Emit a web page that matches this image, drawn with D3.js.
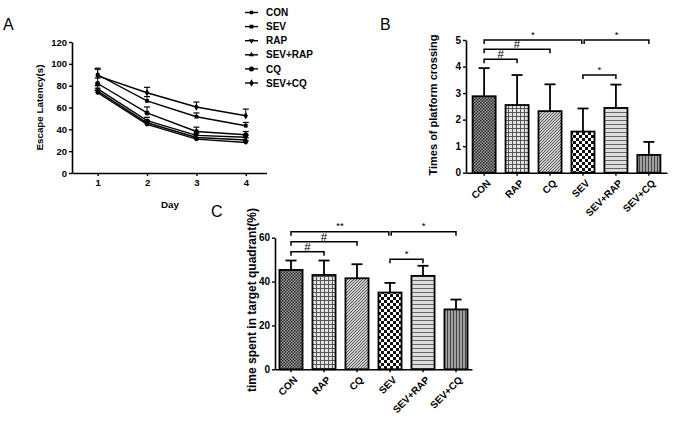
<!DOCTYPE html>
<html><head><meta charset="utf-8">
<script src="https://cdn.jsdelivr.net/npm/d3@7"></script>
<style>body{margin:0;background:#fff} svg{display:block} text{font-family:"Liberation Sans",Arial,sans-serif}</style>
</head><body><svg id="c" width="674" height="421"></svg>
<script>
// ---------- DATA ----------
const days = [1, 2, 3, 4];
const lineSeries = ["CON", "SEV", "RAP", "SEV+RAP", "CQ", "SEV+CQ"];
const latCON    = [73.5, 44.5, 31, 28];
const latSEV    = [90, 66, 51.5, 43.3];
const latRAP    = [77, 48, 34.5, 32.7];
const latSEVRAP = [75, 46, 32.5, 30.2];
const latCQ     = [82, 55, 38, 35];
const latSEVCQ  = [89, 73.5, 60.5, 52.5];
const errCON    = [2, 2, 1.5, 1.5];
const errSEV    = [5, 4, 3.5, 3];
const errRAP    = [3, 3, 2, 2];
const errSEVRAP = [2, 2, 2, 2];
const errCQ     = [5, 5.5, 4, 3];
const errSEVCQ  = [7, 5, 4.5, 6];
const latTicks = [0, 20, 40, 60, 80, 100, 120];

const barGroups = ["CON", "RAP", "CQ", "SEV", "SEV+RAP", "SEV+CQ"];
const crossMean = [2.88, 2.55, 2.32, 1.55, 2.44, 0.67];
const crossErr  = [1.06, 1.13, 1.01, 0.87, 0.88, 0.49];
const crossTicks = [0, 1, 2, 3, 4, 5];
// [from, to, label, level]
const crossSig = [[0, 3, "*", 5.0], [3, 5, "*", 5.0], [0, 2, "#", 4.65], [0, 1, "#", 4.27], [3, 4, "*", 3.68]];

const timeMean = [45.3, 43, 41.5, 35, 42.6, 27.3];
const timeErr  = [4.3, 6.6, 6.4, 4.4, 4.6, 4.5];
const timeTicks = [0, 20, 40, 60];
const timeSig = [[0, 3, "**", 62.7], [3, 5, "*", 62.7], [0, 2, "#", 58.2], [0, 1, "#", 53.6], [3, 4, "*", 50.2]];

// ---------- SETUP ----------
const svg = d3.select("#c");
const defs = svg.append("defs");
const FONT = "bold";

function pat(id, w, h, bg, draw) {
  const p = defs.append("pattern").attr("id", id).attr("width", w).attr("height", h).attr("patternUnits", "userSpaceOnUse");
  p.append("rect").attr("width", w).attr("height", h).attr("fill", bg);
  draw(p);
}
pat("p0", 3, 3, "#a0a0a0", p => { p.append("rect").attr("width", 1.5).attr("height", 1.5).attr("fill", "#262626"); p.append("rect").attr("x", 1.5).attr("y", 1.5).attr("width", 1.5).attr("height", 1.5).attr("fill", "#262626"); });
pat("p1", 4, 4, "#e4e4e4", p => { p.append("rect").attr("width", 4).attr("height", 1).attr("fill", "#555"); p.append("rect").attr("width", 1).attr("height", 4).attr("fill", "#555"); });
pat("p2", 3, 3, "#d0d0d0", p => { p.append("path").attr("d", "M0,3L3,0M-1,1L1,-1M2,4L4,2").attr("stroke", "#444").attr("stroke-width", 0.9); });
pat("p3", 6, 6, "#fff", p => { p.append("rect").attr("width", 3).attr("height", 3).attr("fill", "#111"); p.append("rect").attr("x", 3).attr("y", 3).attr("width", 3).attr("height", 3).attr("fill", "#111"); });
pat("p4", 4, 4, "#dedede", p => { p.append("rect").attr("width", 4).attr("height", 1).attr("fill", "#666"); });
pat("p5", 3, 3, "#a0a0a0", p => { p.append("rect").attr("width", 1).attr("height", 3).attr("fill", "#444"); });

function styleAxis(g, fs) {
  g.select(".domain").attr("stroke", "#000").attr("stroke-width", 1.6);
  g.selectAll(".tick line").attr("stroke", "#000").attr("stroke-width", 1.4);
  g.selectAll(".tick text").attr("font-size", fs).attr("font-weight", FONT).attr("fill", "#000");
}

// ---------- PANEL A ----------
const xA = d3.scaleLinear().domain([0.48, 4.42]).range([72, 266.5]);
const yA = d3.scaleLinear().domain([0, 120]).range([173, 42]);
const gAy = svg.append("g").attr("transform", "translate(72,0)").call(d3.axisLeft(yA).tickValues(latTicks).tickSize(3).tickSizeOuter(0).tickPadding(2).tickFormat(d3.format("d")));
styleAxis(gAy, 9.5);
const gAx = svg.append("g").attr("transform", "translate(0,173)").call(d3.axisBottom(xA).tickValues(days).tickSize(3).tickSizeOuter(0).tickPadding(3).tickFormat(d3.format("d")));
styleAxis(gAx, 9.5);
svg.append("text").attr("x", 3).attr("y", 30).attr("font-size", 16).text("A");
svg.append("text").attr("transform", "translate(43,107.5) rotate(-90)").attr("text-anchor", "middle").attr("font-size", 9.8).attr("font-weight", FONT).text("Escape Latency(s)");
svg.append("text").attr("x", 170).attr("y", 208).attr("text-anchor", "middle").attr("font-size", 9.8).attr("font-weight", FONT).text("Day");

const latData = [latCON, latSEV, latRAP, latSEVRAP, latCQ, latSEVCQ];
const errData = [errCON, errSEV, errRAP, errSEVRAP, errCQ, errSEVCQ];
const symTypes = [d3.symbolCircle, d3.symbolSquare, d3.symbolTriangle, d3.symbolTriangle, d3.symbolCircle, d3.symbolDiamond];
const symRot = [0, 0, 180, 0, 0, 0];
const symSize = [14, 14, 12, 12, 20, 16];
const line = d3.line().x((d, i) => xA(days[i])).y(d => yA(d));
lineSeries.forEach((name, s) => {
  const g = svg.append("g");
  latData[s].forEach((v, i) => {
    const x = xA(days[i]);
    g.append("line").attr("x1", x).attr("x2", x).attr("y1", yA(v)).attr("y2", yA(v + errData[s][i])).attr("stroke", "#000").attr("stroke-width", 1);
    g.append("line").attr("x1", x - 3).attr("x2", x + 3).attr("y1", yA(v + errData[s][i])).attr("y2", yA(v + errData[s][i])).attr("stroke", "#000").attr("stroke-width", 1.2);
  });
  g.append("path").attr("d", line(latData[s])).attr("fill", "none").attr("stroke", "#000").attr("stroke-width", 1.4);
  g.selectAll("path.m").data(latData[s]).join("path").attr("class", "m")
    .attr("d", d3.symbol().type(symTypes[s]).size(symSize[s]))
    .attr("transform", (d, i) => `translate(${xA(days[i])},${yA(d)}) rotate(${symRot[s]})`).attr("fill", "#000");
  const ly = 12.5 + s * 14.1;
  svg.append("line").attr("x1", 245).attr("x2", 258).attr("y1", ly).attr("y2", ly).attr("stroke", "#000").attr("stroke-width", 1.4);
  svg.append("path").attr("d", d3.symbol().type(symTypes[s]).size(symSize[s])()).attr("transform", `translate(251.5,${ly}) rotate(${symRot[s]})`);
  svg.append("text").attr("x", 266).attr("y", ly + 3.6).attr("font-size", 10).attr("font-weight", FONT).text(name);
});

// ---------- BAR PANELS ----------
function barPanel(cfg) {
  const x = d3.scaleBand().domain(barGroups).range(cfg.xr).paddingInner(0.3).paddingOuter(cfg.po);
  const y = d3.scaleLinear().domain(cfg.yd).range(cfg.yr);
  const g = svg.append("g");
  cfg.mean.forEach((m, i) => {
    const cx = x(barGroups[i]) + x.bandwidth() / 2;
    const top = y(m + cfg.err[i]);
    g.append("line").attr("x1", cx).attr("x2", cx).attr("y1", y(m)).attr("y2", top).attr("stroke", "#000").attr("stroke-width", 1.8);
    g.append("line").attr("x1", cx - 5.5).attr("x2", cx + 5.5).attr("y1", top).attr("y2", top).attr("stroke", "#000").attr("stroke-width", 1.8);
  });
  g.selectAll("rect.bar").data(cfg.mean).join("rect").attr("class", "bar")
    .attr("x", (d, i) => x(barGroups[i])).attr("width", x.bandwidth())
    .attr("y", d => y(d)).attr("height", d => y(0) - y(d))
    .attr("fill", (d, i) => `url(#p${i})`).attr("stroke", "#000").attr("stroke-width", 1.8);
  const gy = svg.append("g").attr("transform", `translate(${cfg.xr[0]},0)`).call(d3.axisLeft(y).tickValues(cfg.ticks).tickSize(3).tickSizeOuter(0).tickPadding(2).tickFormat(d3.format("d")));
  styleAxis(gy, 10);
  const gx = svg.append("g").attr("transform", `translate(0,${cfg.yr[0]})`).call(d3.axisBottom(x).tickSize(3).tickSizeOuter(0).tickPadding(0));
  styleAxis(gx, 10);
  gx.selectAll(".tick text").attr("text-anchor", "end").attr("dy", 0).attr("transform", "translate(5,9) rotate(-45)");
  cfg.sig.forEach(([a, b, lab, lev]) => {
    const xa = x(barGroups[a]) + x.bandwidth() / 2 + (a === 3 && b === 5 ? 1.2 : 0);
    const xb = x(barGroups[b]) + x.bandwidth() / 2 - (b === 3 && a === 0 && lev === cfg.sig[0][3] ? 1.2 : 0);
    const yy = y(lev);
    g.append("path").attr("d", `M${xa},${yy + 4}V${yy}H${xb}V${yy + 4}`).attr("fill", "none").attr("stroke", "#000").attr("stroke-width", 1.5);
    g.append("text").attr("x", (xa + xb) / 2).attr("y", yy - (lab === "#" ? 1 : 2.5)).attr("text-anchor", "middle")
      .attr("font-size", lab === "#" ? 11.5 : 9.5).attr("fill", "#000").text(lab);
  });
  svg.append("text").attr("transform", `translate(${cfg.ylx},${cfg.ylc}) rotate(-90)`).attr("text-anchor", "middle")
    .attr("font-size", cfg.ylfs).attr("font-weight", FONT).text(cfg.ylabel);
  svg.append("text").attr("x", cfg.lx).attr("y", cfg.ly).attr("font-size", 16).text(cfg.letter);
}

barPanel({ xr: [466, 667], po: 0.2, yd: [0, 5], yr: [172.7, 40], mean: crossMean, err: crossErr, ticks: crossTicks, sig: crossSig,
  ylabel: "Times of platform crossing", ylx: 436.5, ylc: 105, ylfs: 11, letter: "B", lx: 380, ly: 30 });
barPanel({ xr: [275, 472], po: 0.135, yd: [0, 60], yr: [369.3, 237.7], mean: timeMean, err: timeErr, ticks: timeTicks, sig: timeSig,
  ylabel: "time spent in target quadrant(%)", ylx: 256, ylc: 300, ylfs: 12, letter: "C", lx: 211, ly: 217 });
</script></body></html>
